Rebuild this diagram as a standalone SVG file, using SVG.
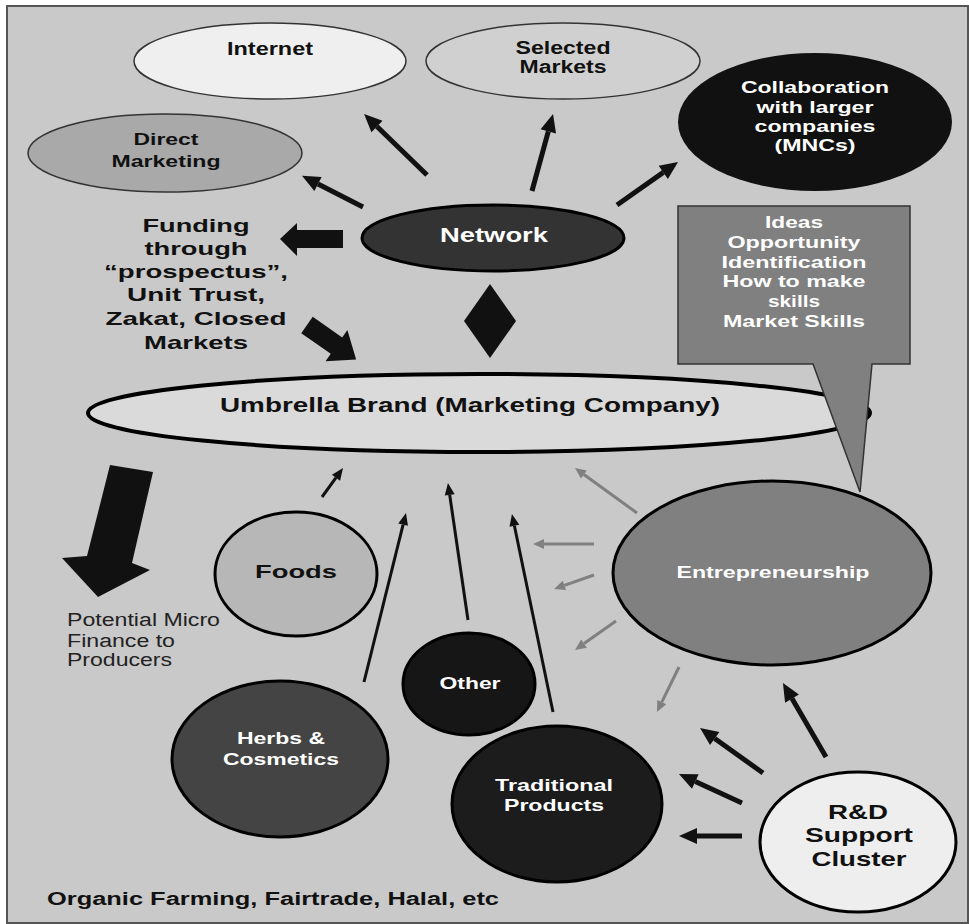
<svg xmlns="http://www.w3.org/2000/svg" width="969" height="924" viewBox="0 0 969 924">
  <style>
    text { font-family: "Liberation Sans", Arial, sans-serif; font-weight: bold; text-anchor: middle; }
    .dark { fill: #111; }
    .light { fill: #fff; }
    .plain { font-weight: normal; text-anchor: start; fill: #222; }
    .node { stroke: #000; stroke-width: 3; }
    .thin { stroke: #333; stroke-width: 1.5; }
    .thick { stroke: #111; stroke-width: 5; fill: none; marker-end: url(#headBig); }
    .slim { stroke: #111; stroke-width: 3; fill: none; marker-end: url(#headSmall); }
    .grey { stroke: #808080; stroke-width: 3; fill: none; marker-end: url(#headGrey); }
    .block { fill: #111; }
  </style>
  <defs>
    <marker id="headBig" markerUnits="userSpaceOnUse" markerWidth="18" markerHeight="16" viewBox="0 0 18 16" refX="0" refY="8" orient="auto" overflow="visible">
      <path d="M0,0 L18,8 L0,16 z" fill="#111"/>
    </marker>
    <marker id="headSmall" markerUnits="userSpaceOnUse" markerWidth="12" markerHeight="10" viewBox="0 0 12 10" refX="0" refY="5" orient="auto" overflow="visible">
      <path d="M0,0 L12,5 L0,10 z" fill="#111"/>
    </marker>
    <marker id="headGrey" markerUnits="userSpaceOnUse" markerWidth="11" markerHeight="10" viewBox="0 0 11 10" refX="0" refY="5" orient="auto" overflow="visible">
      <path d="M0,0 L11,5 L0,10 z" fill="#808080"/>
    </marker>
  </defs>

  <!-- panel -->
  <rect x="0" y="0" width="969" height="924" fill="#fff"/>
  <rect x="7" y="6" width="961" height="917" fill="#c9c9c9" stroke="#555" stroke-width="2"/>

  <!-- connectors -->
  <g id="connectors">
    <!-- from Network -->
    <line class="thick" x1="363" y1="207" x2="318" y2="184"/>
    <line class="thick" x1="427" y1="175" x2="377" y2="126.5"/>
    <line class="thick" x1="532" y1="191" x2="548.3" y2="131.4"/>
    <line class="thick" x1="617" y1="205" x2="663.3" y2="172.4"/>
    <!-- from R&D Support Cluster -->
    <line class="thick" x1="826" y1="757" x2="792" y2="698.6"/>
    <line class="thick" x1="763" y1="773" x2="714.7" y2="738.5"/>
    <line class="thick" x1="742" y1="803" x2="695.3" y2="781.5"/>
    <line class="thick" x1="742" y1="836" x2="697" y2="836"/>
    <!-- products into the umbrella brand -->
    <line class="slim" x1="322" y1="497" x2="336" y2="477.7"/>
    <line class="slim" x1="364" y1="682" x2="403.1" y2="524.6"/>
    <line class="slim" x1="468" y1="620" x2="449.7" y2="494.9"/>
    <line class="slim" x1="553" y1="712" x2="514.4" y2="525.7"/>
    <!-- from Entrepreneurship -->
    <line class="grey" x1="637" y1="513" x2="583.9" y2="474.5"/>
    <line class="grey" x1="594" y1="544" x2="544" y2="544"/>
    <line class="grey" x1="594" y1="575" x2="564.4" y2="585.4"/>
    <line class="grey" x1="616" y1="621" x2="584" y2="643.6"/>
    <line class="grey" x1="679" y1="667" x2="661.8" y2="702.1"/>
    <!-- block arrows -->
    <polygon class="block" points="343,230 297,230 297,223 280,239 297,256 297,248 343,248"/>
    <polygon class="block" points="0,-10 36,-10 36,-19 60,0 36,19 36,10 0,10" transform="translate(307,325) rotate(35)"/>
    <polygon class="block" points="110,465 153,472 132,563 150,570 98,597 62,558 87,556"/>
    <polygon class="block" points="490,284 516,321 490,358 464,321"/>
  </g>

  <g id="internet">
    <ellipse class="thin" cx="270" cy="61" rx="136" ry="38" fill="#efefef"/>
    <text class="dark" x="270" y="55" font-size="18" textLength="86" lengthAdjust="spacingAndGlyphs">Internet</text>
  </g>

  <g id="selected-markets">
    <ellipse class="thin" cx="563" cy="61" rx="137" ry="38" fill="#d0d0d0"/>
    <text class="dark" x="563" y="54" font-size="18" textLength="95" lengthAdjust="spacingAndGlyphs">Selected</text>
    <text class="dark" x="563" y="73" font-size="18" textLength="87" lengthAdjust="spacingAndGlyphs">Markets</text>
  </g>

  <g id="collaboration">
    <ellipse cx="815" cy="122" rx="137" ry="69" fill="#111"/>
    <text class="light" x="815" y="93" font-size="17" textLength="148" lengthAdjust="spacingAndGlyphs">Collaboration</text>
    <text class="light" x="815" y="113" font-size="17" textLength="117" lengthAdjust="spacingAndGlyphs">with larger</text>
    <text class="light" x="815" y="132" font-size="17" textLength="121" lengthAdjust="spacingAndGlyphs">companies</text>
    <text class="light" x="815" y="151" font-size="17" textLength="81" lengthAdjust="spacingAndGlyphs">(MNCs)</text>
  </g>

  <g id="direct-marketing">
    <ellipse class="thin" cx="165" cy="153" rx="137" ry="39" fill="#a9a9a9"/>
    <text class="dark" x="166" y="145" font-size="17" textLength="65" lengthAdjust="spacingAndGlyphs">Direct</text>
    <text class="dark" x="166" y="167" font-size="17" textLength="109" lengthAdjust="spacingAndGlyphs">Marketing</text>
  </g>

  <g id="network">
    <ellipse class="node" cx="493" cy="238" rx="131" ry="33" fill="#333"/>
    <text class="light" x="494" y="242" font-size="21" textLength="108" lengthAdjust="spacingAndGlyphs">Network</text>
  </g>

  <g id="funding">
    <text class="dark" x="196" y="232" font-size="19" textLength="107" lengthAdjust="spacingAndGlyphs">Funding</text>
    <text class="dark" x="196" y="255" font-size="19" textLength="103" lengthAdjust="spacingAndGlyphs">through</text>
    <text class="dark" x="196" y="278" font-size="19" textLength="184" lengthAdjust="spacingAndGlyphs">“prospectus”,</text>
    <text class="dark" x="196" y="301" font-size="19" textLength="138" lengthAdjust="spacingAndGlyphs">Unit Trust,</text>
    <text class="dark" x="196" y="325" font-size="19" textLength="181" lengthAdjust="spacingAndGlyphs">Zakat, Closed</text>
    <text class="dark" x="196" y="349" font-size="19" textLength="104" lengthAdjust="spacingAndGlyphs">Markets</text>
  </g>

  <g id="umbrella-brand">
    <ellipse cx="479" cy="413" rx="391" ry="39" fill="#dadada" stroke="#000" stroke-width="4"/>
    <text class="dark" x="470" y="412" font-size="20" textLength="500" lengthAdjust="spacingAndGlyphs">Umbrella Brand (Marketing Company)</text>
  </g>

  <g id="skills-callout">
    <polygon points="678,206 910,206 910,364 872,364 860,492 813,364 678,364" fill="#808080" stroke="#333" stroke-width="1.5"/>
    <text class="light" x="794" y="228" font-size="16" textLength="58" lengthAdjust="spacingAndGlyphs">Ideas</text>
    <text class="light" x="794" y="248" font-size="16" textLength="133" lengthAdjust="spacingAndGlyphs">Opportunity</text>
    <text class="light" x="794" y="268" font-size="16" textLength="145" lengthAdjust="spacingAndGlyphs">Identification</text>
    <text class="light" x="794" y="287" font-size="16" textLength="143" lengthAdjust="spacingAndGlyphs">How to make</text>
    <text class="light" x="794" y="307" font-size="16" textLength="52" lengthAdjust="spacingAndGlyphs">skills</text>
    <text class="light" x="794" y="327" font-size="16" textLength="142" lengthAdjust="spacingAndGlyphs">Market Skills</text>
  </g>

  <g id="micro-finance">
    <text class="plain" x="67" y="626" font-size="18" textLength="153" lengthAdjust="spacingAndGlyphs">Potential Micro</text>
    <text class="plain" x="67" y="647" font-size="18" textLength="108" lengthAdjust="spacingAndGlyphs">Finance to</text>
    <text class="plain" x="67" y="666" font-size="18" textLength="105" lengthAdjust="spacingAndGlyphs">Producers</text>
  </g>

  <g id="foods">
    <ellipse class="node" cx="296" cy="574" rx="81" ry="62" fill="#b7b7b7"/>
    <text class="dark" x="296" y="578" font-size="18" textLength="82" lengthAdjust="spacingAndGlyphs">Foods</text>
  </g>

  <g id="entrepreneurship">
    <ellipse class="node" cx="772" cy="573" rx="159" ry="92" fill="#808080"/>
    <text class="light" x="773" y="578" font-size="17" textLength="193" lengthAdjust="spacingAndGlyphs">Entrepreneurship</text>
  </g>

  <g id="other">
    <ellipse class="node" cx="469" cy="684" rx="66" ry="51" fill="#161616"/>
    <text class="light" x="470" y="689" font-size="16" textLength="61" lengthAdjust="spacingAndGlyphs">Other</text>
  </g>

  <g id="herbs-cosmetics">
    <ellipse class="node" cx="280" cy="759" rx="108" ry="78" fill="#444"/>
    <text class="light" x="281" y="744" font-size="16" textLength="88" lengthAdjust="spacingAndGlyphs">Herbs &amp;</text>
    <text class="light" x="281" y="765" font-size="16" textLength="116" lengthAdjust="spacingAndGlyphs">Cosmetics</text>
  </g>

  <g id="traditional-products">
    <ellipse class="node" cx="557" cy="804" rx="105" ry="78" fill="#1c1c1c"/>
    <text class="light" x="554" y="791" font-size="17" textLength="118" lengthAdjust="spacingAndGlyphs">Traditional</text>
    <text class="light" x="554" y="811" font-size="17" textLength="100" lengthAdjust="spacingAndGlyphs">Products</text>
  </g>

  <g id="rd-support-cluster">
    <ellipse class="node" cx="858" cy="842" rx="98" ry="70" fill="#eeeeee"/>
    <text class="dark" x="858" y="819" font-size="21" textLength="60" lengthAdjust="spacingAndGlyphs">R&amp;D</text>
    <text class="dark" x="859" y="842" font-size="21" textLength="108" lengthAdjust="spacingAndGlyphs">Support</text>
    <text class="dark" x="859" y="866" font-size="21" textLength="95" lengthAdjust="spacingAndGlyphs">Cluster</text>
  </g>

  <g id="certifications">
    <text class="dark" x="47" y="905" font-size="18" style="text-anchor:start" textLength="452" lengthAdjust="spacingAndGlyphs">Organic Farming, Fairtrade, Halal, etc</text>
  </g>
</svg>
